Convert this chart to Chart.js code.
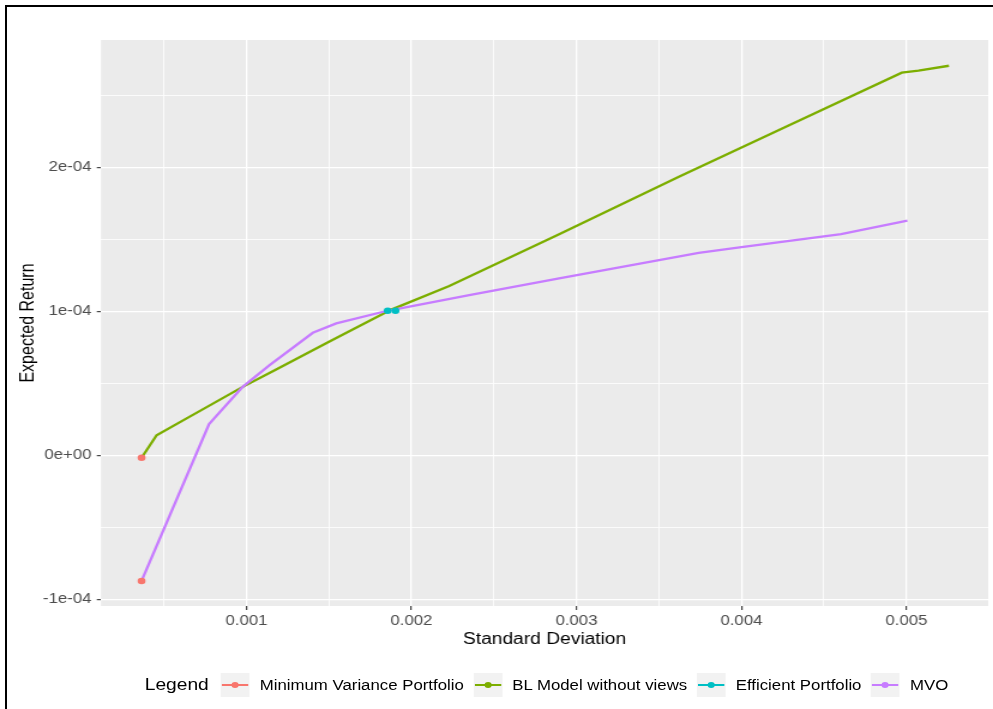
<!DOCTYPE html>
<html>
<head>
<meta charset="utf-8">
<script src="https://cdn.jsdelivr.net/npm/chart.js@4.4.0/dist/chart.umd.min.js"></script>
<style>
  body { margin: 0; background: #fff; font-family: "Liberation Sans", Arial, sans-serif; }
  #frame { position: absolute; left: 5px; top: 5px; width: 1200px; height: 900px;
           border-left: 2px solid #000; border-top: 2px solid #000; }
  /* the reference is stretched sideways, so the whole chart is too */
  #wrap { position: absolute; left: 0; top: 0; width: 828px; height: 709px;
          transform: scaleX(1.1993); transform-origin: 0 0; }
  #legend { position: absolute; left: 120.7px; top: 673px; height: 24px;
            display: flex; align-items: center; white-space: nowrap; }
  #legend .ttl { font-size: 16px; color: #000; margin-right: 10px; }
  #legend .key { position: relative; width: 24px; height: 24px; background: #F2F2F2; margin-right: 8.5px; }
  #legend .key .ln { position: absolute; left: 1px; right: 1px; top: 11px; height: 2px; }
  #legend .key .pt { position: absolute; left: 8.8px; top: 8.8px; width: 6.4px; height: 6.4px; border-radius: 50%; }
  #legend .lbl { font-size: 14px; color: #000; margin-right: 8px; }
</style>
</head>
<body>
<div id="frame"></div>
<div id="wrap">
  <canvas id="myChart" width="828" height="709"></canvas>
  <div id="legend"></div>
</div>
<script>
// axis ticks
const xMajor = [0.001, 0.002, 0.003, 0.004, 0.005];
const xMajorLabels = ['0.001', '0.002', '0.003', '0.004', '0.005'];
const xMinor = [0.0005, 0.0015, 0.0025, 0.0035, 0.0045];
const yMajor = [-1e-4, 0, 1e-4, 2e-4];
const yMajorLabels = ['-1e-04', '0e+00', '1e-04', '2e-04'];
const yMinor = [-0.5e-4, 0.5e-4, 1.5e-4, 2.5e-4];

// series
const minVarX = [0.000364, 0.000364];
const minVarY = [-1.7e-6, -8.73e-5];

const blX = [0.000364, 0.000455, 0.000656, 0.000977, 0.001171, 0.001503, 0.001878,
             0.002229, 0.002895, 0.003621, 0.004286, 0.004972, 0.005073, 0.005258];
const blY = [-1.7e-6, 1.40e-5, 2.69e-5, 4.76e-5, 5.92e-5, 7.91e-5, 1.013e-4,
             1.177e-4, 1.537e-4, 1.937e-4, 2.293e-4, 2.660e-4, 2.674e-4, 2.708e-4];

const effX = [0.001856, 0.001903];
const effY = [1.005e-4, 1.005e-4];

const mvoX = [0.000364, 0.000773, 0.000977, 0.00114, 0.001402, 0.001544, 0.001854,
              0.00235, 0.002895, 0.003741, 0.004, 0.004604, 0.005006];
const mvoY = [-8.73e-5, 2.17e-5, 4.76e-5, 6.27e-5, 8.52e-5, 9.17e-5, 1.005e-4,
              1.114e-4, 1.230e-4, 1.408e-4, 1.448e-4, 1.538e-4, 1.631e-4];

const seriesNames = ['Minimum Variance Portfolio', 'BL Model without views', 'Efficient Portfolio', 'MVO'];
const seriesColors = ['#F8766D', '#7CAE00', '#00BFC4', '#C77CFF'];

Chart.defaults.font.family = '"Liberation Sans", Arial, sans-serif';

const toPts = (xs, ys) => xs.map((x, i) => ({ x: x, y: ys[i] }));

const panelBg = {
  id: 'panelBg',
  beforeDraw(chart) {
    const { ctx, chartArea: a } = chart;
    ctx.save();
    ctx.fillStyle = '#EBEBEB';
    ctx.fillRect(a.left, a.top, a.right - a.left, a.bottom - a.top);
    ctx.restore();
  }
};

function axis(major, labels, minor, min, max) {
  const isMajor = c => c.tick && major.indexOf(c.tick.value) >= 0;
  return {
    type: 'linear',
    min: min,
    max: max,
    afterBuildTicks: s => {
      s.ticks = minor.concat(major).sort((a, b) => a - b).map(v => ({ value: v }));
    },
    ticks: {
      autoSkip: false,
      maxRotation: 0,
      color: '#4D4D4D',
      font: { size: 14 },
      callback: v => {
        const i = major.indexOf(v);
        return i < 0 ? '' : labels[i];
      }
    },
    grid: {
      color: '#FFFFFF',
      lineWidth: c => isMajor(c) ? 1.3 : 0.8,
      drawTicks: true,
      tickColor: c => isMajor(c) ? '#333333' : 'rgba(0,0,0,0)',
      tickWidth: 1.1
    },
    border: { display: false }
  };
}

const xAxis = axis(xMajor, xMajorLabels, xMinor, 0.000118, 0.005496);
xAxis.ticks.padding = 2.8;
xAxis.grid.tickLength = 4;
xAxis.afterFit = s => { s.height = 50; };
xAxis.title = { display: true, text: 'Standard Deviation', color: '#000', font: { size: 16 }, padding: { top: 0, bottom: 7 } };

const yAxis = axis(yMajor, yMajorLabels, yMinor, -1.047e-4, 2.887e-4);
yAxis.ticks.padding = 4.5;
yAxis.grid.tickLength = 3.5;
yAxis.afterFit = s => { s.width = 84.2; };
yAxis.title = { display: true, text: 'Expected Return', color: '#000', font: { size: 16 }, padding: { top: 13.7, bottom: 0 } };

new Chart(document.getElementById('myChart').getContext('2d'), {
  type: 'scatter',
  data: {
    datasets: [
      { label: seriesNames[0], data: toPts(minVarX, minVarY), showLine: false, order: 0,
        pointRadius: 3.3, pointBorderWidth: 0, backgroundColor: seriesColors[0] },
      { label: seriesNames[2], data: toPts(effX, effY), showLine: false, order: 0,
        pointRadius: 3.3, pointBorderWidth: 0, backgroundColor: seriesColors[2] },
      { label: seriesNames[3], data: toPts(mvoX, mvoY), showLine: true, order: 1,
        pointRadius: 0, borderWidth: 2.3, borderColor: seriesColors[3], tension: 0 },
      { label: seriesNames[1], data: toPts(blX, blY), showLine: true, order: 2,
        pointRadius: 0, borderWidth: 2.3, borderColor: seriesColors[1], tension: 0 }
    ]
  },
  options: {
    responsive: false,
    devicePixelRatio: 1,
    animation: false,
    layout: { padding: { left: 0, right: 2.5, top: 40, bottom: 53 } },
    scales: { x: xAxis, y: yAxis },
    plugins: { legend: { display: false }, tooltip: { enabled: false } }
  },
  plugins: [panelBg]
});

// ggplot-style legend below the panel
const legend = document.getElementById('legend');
let html = '<span class="ttl">Legend</span>';
seriesNames.forEach((name, i) => {
  html += '<span class="key"><span class="ln" style="background:' + seriesColors[i] + '"></span>' +
          '<span class="pt" style="background:' + seriesColors[i] + '"></span></span>' +
          '<span class="lbl">' + name + '</span>';
});
legend.innerHTML = html;
</script>
</body>
</html>
